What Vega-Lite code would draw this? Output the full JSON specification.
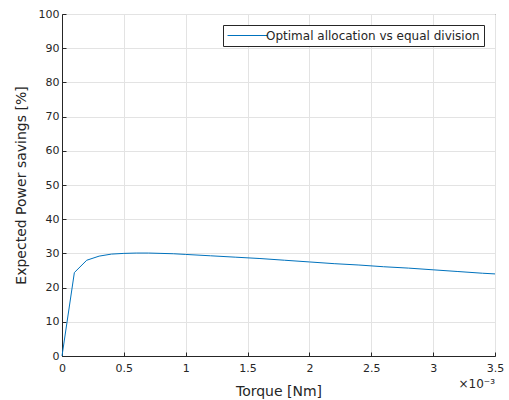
{
  "$schema": "https://vega.github.io/schema/vega-lite/v6.json",
  "autosize": {"type": "none"},
  "padding": {"left": 62, "top": 14, "right": 14, "bottom": 44},
  "width": 433,
  "height": 342,
  "background": "white",
  "config": {
    "font": "DejaVu Sans",
    "view": {"stroke": "#262626", "strokeWidth": 1},
    "axis": {
      "gridColor": "#e3e3e3",
      "gridWidth": 1,
      "domainColor": "#262626",
      "tickColor": "#262626",
      "tickSize": -4,
      "labelColor": "#262626",
      "labelFontSize": 11,
      "labelFlush": false,
      "titleColor": "#262626",
      "titleFontSize": 14,
      "titleFontWeight": "normal"
    }
  },
  "layer": [
    {
      "data": {"values": [
        {"torque": 0, "savings": 0, "series": "Optimal allocation vs equal division"},
        {"torque": 0.1, "savings": 24.4, "series": "Optimal allocation vs equal division"},
        {"torque": 0.2, "savings": 28.0, "series": "Optimal allocation vs equal division"},
        {"torque": 0.3, "savings": 29.2, "series": "Optimal allocation vs equal division"},
        {"torque": 0.4, "savings": 29.8, "series": "Optimal allocation vs equal division"},
        {"torque": 0.5, "savings": 30.0, "series": "Optimal allocation vs equal division"},
        {"torque": 0.6, "savings": 30.1, "series": "Optimal allocation vs equal division"},
        {"torque": 0.7, "savings": 30.1, "series": "Optimal allocation vs equal division"},
        {"torque": 0.8, "savings": 30.0, "series": "Optimal allocation vs equal division"},
        {"torque": 0.9, "savings": 29.9, "series": "Optimal allocation vs equal division"},
        {"torque": 1.0, "savings": 29.7, "series": "Optimal allocation vs equal division"},
        {"torque": 1.2, "savings": 29.3, "series": "Optimal allocation vs equal division"},
        {"torque": 1.4, "savings": 28.9, "series": "Optimal allocation vs equal division"},
        {"torque": 1.6, "savings": 28.5, "series": "Optimal allocation vs equal division"},
        {"torque": 1.8, "savings": 28.0, "series": "Optimal allocation vs equal division"},
        {"torque": 2.0, "savings": 27.5, "series": "Optimal allocation vs equal division"},
        {"torque": 2.2, "savings": 27.0, "series": "Optimal allocation vs equal division"},
        {"torque": 2.4, "savings": 26.6, "series": "Optimal allocation vs equal division"},
        {"torque": 2.6, "savings": 26.1, "series": "Optimal allocation vs equal division"},
        {"torque": 2.8, "savings": 25.7, "series": "Optimal allocation vs equal division"},
        {"torque": 3.0, "savings": 25.2, "series": "Optimal allocation vs equal division"},
        {"torque": 3.2, "savings": 24.7, "series": "Optimal allocation vs equal division"},
        {"torque": 3.4, "savings": 24.2, "series": "Optimal allocation vs equal division"},
        {"torque": 3.5, "savings": 24.0, "series": "Optimal allocation vs equal division"}
      ]},
      "mark": {"type": "line", "strokeWidth": 1},
      "encoding": {
        "x": {
          "field": "torque", "type": "quantitative",
          "scale": {"domain": [0, 3.5], "nice": false},
          "axis": {"values": [0, 0.5, 1, 1.5, 2, 2.5, 3, 3.5], "format": "~r", "title": "Torque [Nm]", "titlePadding": 11, "labelPadding": 10, "labelOverlap": false}
        },
        "y": {
          "field": "savings", "type": "quantitative",
          "scale": {"domain": [0, 100], "nice": false},
          "axis": {"values": [0, 10, 20, 30, 40, 50, 60, 70, 80, 90, 100], "format": "~r", "title": "Expected Power savings [%]", "titlePadding": 10, "labelPadding": 7, "labelOverlap": false}
        },
        "color": {
          "field": "series", "type": "nominal",
          "scale": {"range": ["#0072BD"]},
          "legend": {
            "title": null,
            "orient": "top-right",
            "offset": 11,
            "symbolType": "M-3.33,0H3.33",
            "symbolSize": 144,
            "symbolOffset": 14,
            "symbolStrokeWidth": 1,
            "labelOffset": 12,
            "labelLimit": 0,
            "labelFontSize": 12,
            "labelColor": "#262626",
            "strokeColor": "#262626",
            "fillColor": "white",
            "padding": 4
          }
        }
      }
    },
    {
      "data": {"values": [{"torque": 3.5, "savings": 0, "label": "×10⁻³"}]},
      "mark": {"type": "text", "align": "right", "baseline": "middle", "dy": 28, "fontSize": 12, "color": "#262626"},
      "encoding": {
        "x": {
          "field": "torque", "type": "quantitative",
          "axis": {"values": [0, 0.5, 1, 1.5, 2, 2.5, 3, 3.5], "format": "~r", "title": "Torque [Nm]", "titlePadding": 11, "labelPadding": 10, "labelOverlap": false}
        },
        "y": {
          "field": "savings", "type": "quantitative",
          "axis": {"values": [0, 10, 20, 30, 40, 50, 60, 70, 80, 90, 100], "format": "~r", "title": "Expected Power savings [%]", "titlePadding": 10, "labelPadding": 7, "labelOverlap": false}
        },
        "text": {"field": "label"}
      }
    }
  ]
}
